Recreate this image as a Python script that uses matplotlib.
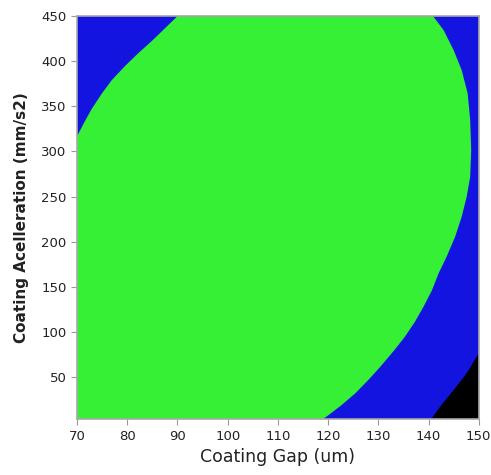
import numpy as np
import matplotlib
matplotlib.use("Agg")
import matplotlib.pyplot as plt

# boundary of the green region, clockwise from the left edge
green_x = [70.0, 71.6, 72.9, 74.9, 76.9, 79.6, 82.2, 84.9, 87.4, 90.0,
           140.9, 143.0, 145.0, 146.6, 147.8, 148.3, 148.5, 148.3, 147.6,
           146.6, 145.3, 143.6, 142.0, 140.7, 139.0, 137.3, 135.3, 133.0,
           130.4, 128.0, 125.4, 122.7, 120.1, 118.9, 70.0]
green_y = [317.0, 334.0, 347.0, 364.0, 379.0, 395.0, 409.0, 422.5, 436.0, 450.0,
           450.0, 434.5, 412.3, 390.2, 364.3, 334.8, 301.5, 272.0, 249.8,
           227.6, 205.5, 183.3, 164.9, 146.4, 127.9, 111.3, 94.7, 78.5,
           61.4, 46.7, 31.9, 19.0, 7.9, 3.0, 3.0]

# black corner region (bottom right)
black_x = [140.5, 142.3, 145.0, 147.6, 150.0, 150.0]
black_y = [3.0, 17.1, 35.6, 54.1, 76.3, 3.0]

x_ticks = [70, 80, 90, 100, 110, 120, 130, 140, 150]
y_ticks = [50, 100, 150, 200, 250, 300, 350, 400, 450]

fig = plt.figure(figsize=(4.91, 4.75), dpi=100)
ax = fig.add_axes([0.157, 0.117, 0.818, 0.849])

ax.set_facecolor("#1414e0")
ax.fill(green_x, green_y, color="#36f036", lw=0)
ax.fill(black_x, black_y, color="black", lw=0)

ax.set_xlim(70, 150)
ax.set_ylim(3, 450)
ax.set_xticks(x_ticks)
ax.set_yticks(y_ticks)
ax.tick_params(colors="#999999", labelcolor="#222222", labelsize=9.5, length=4)
for s in ax.spines.values():
    s.set_color("#a8a8a8")
    s.set_linewidth(1.2)

ax.set_xlabel("Coating Gap (um)", fontsize=12.5, color="#222222", labelpad=4)
ax.set_ylabel("Coating Acelleration (mm/s2)", fontsize=11, fontweight="bold",
              color="#222222", labelpad=9)

fig.savefig("out.png", dpi=100)
